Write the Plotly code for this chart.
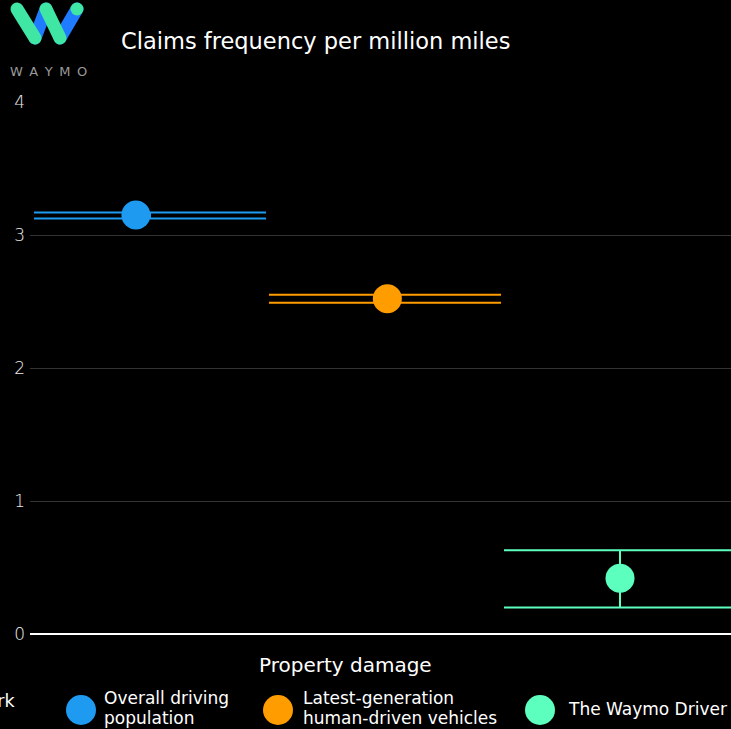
import base64
import plotly.graph_objects as go

# ---------------- data ----------------
series = ["Overall driving population", "Latest-generation human-driven vehicles", "The Waymo Driver"]
legend_lines = [["Overall driving", "population"],
                ["Latest-generation", "human-driven vehicles"],
                ["The Waymo Driver"]]
legend_title = "Benchmark"
category = "Property damage"
title_text = "Claims frequency per million miles"
values = [3.15, 2.52, 0.42]
ci_upper = [3.17, 2.55, 0.63]
ci_lower = [3.125, 2.49, 0.20]
band_x = [0.0, 1.0, 2.0]        # group band centres
point_x = [-0.06, 1.01, 2.0]    # dot positions within the group
y_ticks = [0, 1, 2, 3, 4]
colors = ["#1E9BF0", "#FF9C00", "#5CFFBE"]

# ---------------- layout helpers (pixel -> paper) ----------------
W, H = 731, 729
L, R, T, B = 30, 731, 102, 634
def px(x):
    return (x - L) / (R - L)
def py(y):
    return (B - y) / (B - T)

FONT = "DejaVu Sans"

fig = go.Figure()

for i in range(len(series)):
    fig.add_trace(go.Scatter(
        x=[band_x[i]], y=[values[i]], mode="markers",
        marker=dict(size=1, color="rgba(0,0,0,0)"),
        error_y=dict(type="data", symmetric=False,
                     array=[ci_upper[i] - values[i]],
                     arrayminus=[values[i] - ci_lower[i]],
                     width=116, thickness=2, color=colors[i]),
        hoverinfo="skip", showlegend=False))

for i in range(len(series)):
    fig.add_trace(go.Scatter(
        x=[point_x[i]], y=[values[i]], mode="markers", name=series[i],
        marker=dict(size=29, color=colors[i], line=dict(width=0)),
        showlegend=False))

annotations = []
shapes = []

# title
annotations.append(dict(xref="paper", yref="paper", x=px(119), y=py(41),
                        xanchor="left", yanchor="middle", showarrow=False,
                        text=title_text, font=dict(family=FONT, size=22.5, color="#ffffff")))
# WAYMO wordmark
annotations.append(dict(xref="paper", yref="paper", x=px(48.5), y=py(72),
                        xanchor="center", yanchor="middle", showarrow=False,
                        text="W\u2002A\u2002Y\u2002M\u2002O",
                        font=dict(family=FONT, size=13, color="#9a9a9a")))
# x category label
annotations.append(dict(xref="paper", yref="paper", x=px(345), y=py(665),
                        xanchor="center", yanchor="middle", showarrow=False,
                        text=category, font=dict(family=FONT, size=20, color="#ffffff")))
# legend title (clipped at the left edge)
annotations.append(dict(xref="paper", yref="paper", x=px(18), y=py(701),
                        xanchor="right", yanchor="middle", showarrow=False,
                        text=legend_title, font=dict(family=FONT, size=17.5, color="#ffffff")))

# custom legend
leg_cx = [81, 278, 540]
leg_tx = [102, 301, 566]
for i in range(len(series)):
    shapes.append(dict(type="circle", xref="paper", yref="paper",
                       xsizemode="pixel", ysizemode="pixel",
                       xanchor=px(leg_cx[i]), yanchor=py(710),
                       x0=-15, x1=15, y0=-15, y1=15,
                       fillcolor=colors[i], line=dict(width=0)))
    lines = legend_lines[i]
    if len(lines) == 1:
        ys = [709]
    else:
        ys = [698, 718]
    for ln, yy in zip(lines, ys):
        annotations.append(dict(xref="paper", yref="paper", x=px(leg_tx[i]), y=py(yy),
                                xanchor="left", yanchor="middle", showarrow=False,
                                text=ln, font=dict(family=FONT, size=17, color="#ffffff")))

# logo (decorative image)
svg = ('<svg xmlns="http://www.w3.org/2000/svg" width="95" height="60" viewBox="0 0 95 60">'
       '<g stroke-linecap="round" stroke-width="13" fill="none">'
       '<line x1="37" y1="41" x2="48" y2="12" stroke="#1F7BFF"/>'
       '<line x1="62" y1="41" x2="79" y2="12" stroke="#1F7BFF"/>'
       '<line x1="19" y1="12" x2="37" y2="41" stroke="#3FE6A4"/>'
       '<line x1="48" y1="12" x2="62" y2="41" stroke="#3FE6A4"/>'
       '</g><circle cx="79" cy="12" r="6.5" fill="#3FE6A4"/></svg>')
src = "data:image/svg+xml;base64," + base64.b64encode(svg.encode()).decode()

fig.update_layout(
    width=W, height=H,
    margin=dict(l=L, r=W - R, t=T, b=H - B, pad=0),
    paper_bgcolor="#000000", plot_bgcolor="#000000",
    showlegend=False,
    annotations=annotations, shapes=shapes,
    images=[dict(source=src, xref="paper", yref="paper",
                 x=px(-2), y=py(-3), sizex=95 / (R - L), sizey=60 / (B - T),
                 xanchor="left", yanchor="top", sizing="stretch", layer="above")],
    xaxis=dict(range=[(L - 150) / 235, (R - 150) / 235], showgrid=False,
               showticklabels=False, zeroline=False, showline=False, ticks=""),
    yaxis=dict(range=[0, 4], tickvals=y_ticks, showgrid=True, gridcolor="#333333",
               gridwidth=1, zeroline=True, zerolinecolor="#ffffff", zerolinewidth=2,
               showline=False, ticks="", ticklabelstandoff=4,
               tickfont=dict(family=FONT, size=17, color="#eeeeee", weight=200)),
)

fig.write_html("out.html",
               config={"displayModeBar": False},
               post_script="document.body.style.margin='0';document.body.style.overflow='hidden';document.body.style.background='#000';")
